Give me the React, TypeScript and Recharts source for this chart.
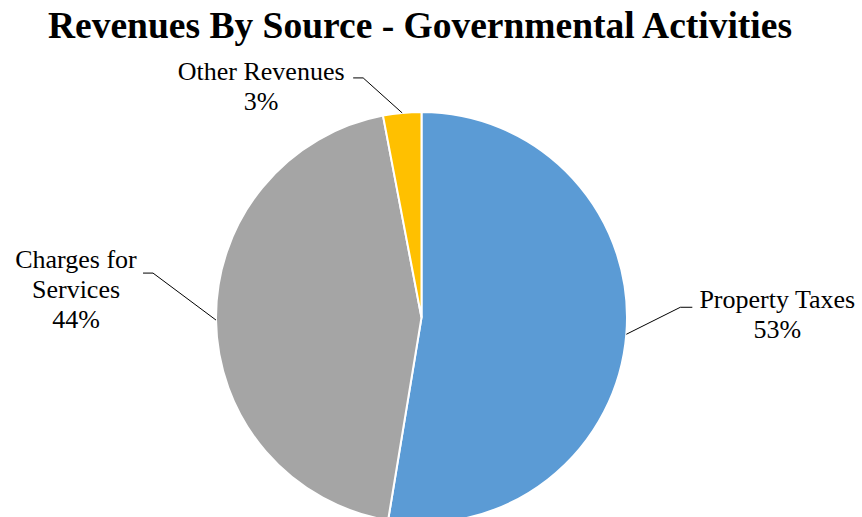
import { PieChart, Pie, Cell } from 'recharts'

const sources = ['Property Taxes', 'Charges for Services', 'Other Revenues']
const shares = [52.6, 44.4, 3.0]
const colors = ['#5B9BD5', '#A5A5A5', '#FFC000']
// label text split into lines, same order as sources
const labelLines = [['Property Taxes'], ['Charges for', 'Services'], ['Other Revenues']]

const data = sources.map((name, i) => ({ name, value: shares[i] }))

// leader line / text placement relative to the slice edge point
const labelLayout = [
  { dx: 54, dy: -27, hx: 12, tx: 85, ty: 1 },
  { dx: -63, dy: -47, hx: -10, tx: -67, ty: -5 },
  { dx: -39, dy: -35, hx: -10, tx: -92, ty: 2 },
]

const RAD = Math.PI / 180

function renderLabel(props: any) {
  const { cx, cy, midAngle, outerRadius, index, percent } = props
  const l = labelLayout[index]
  const sx = cx + outerRadius * Math.cos(-midAngle * RAD)
  const sy = cy + outerRadius * Math.sin(-midAngle * RAD)
  const ex = sx + l.dx
  const ey = sy + l.dy
  const hx = ex + l.hx
  const lines = [...labelLines[index], `${Math.round(percent * 100)}%`]
  return (
    <g>
      <polyline points={`${sx},${sy} ${ex},${ey} ${hx},${ey}`} fill="none" stroke="#000" strokeWidth={1} />
      <text
        x={hx + l.tx}
        y={ey + l.ty}
        textAnchor="middle"
        fontFamily="Liberation Serif"
        fontSize={26}
        fill="#000"
      >
        {lines.map((t, i) => (
          <tspan key={i} x={hx + l.tx} dy={i === 0 ? 0 : 30} fontFamily="Liberation Serif">
            {t}
          </tspan>
        ))}
      </text>
    </g>
  )
}

export default function App() {
  return (
    <div style={{ position: 'absolute', left: 0, top: 0, width: 862, height: 517, background: '#fff' }}>
      <div
        style={{
          position: 'absolute',
          left: -11,
          top: 4,
          width: 862,
          textAlign: 'center',
          fontFamily: 'Liberation Serif',
          fontWeight: 'bold',
          fontSize: 37.5,
          color: '#000',
          lineHeight: '44px',
        }}
      >
        Revenues By Source - Governmental Activities
      </div>
      <PieChart width={862} height={517} margin={{ top: 0, right: 0, bottom: 0, left: 0 }}>
        <Pie
          data={data}
          dataKey="value"
          nameKey="name"
          cx={421.5}
          cy={317.5}
          outerRadius={205.5}
          startAngle={90}
          endAngle={-270}
          stroke="#fff"
          strokeWidth={2}
          label={renderLabel}
          labelLine={false}
          isAnimationActive={false}
        >
          {data.map((d, i) => (
            <Cell key={d.name} fill={colors[i]} />
          ))}
        </Pie>
      </PieChart>
    </div>
  )
}
